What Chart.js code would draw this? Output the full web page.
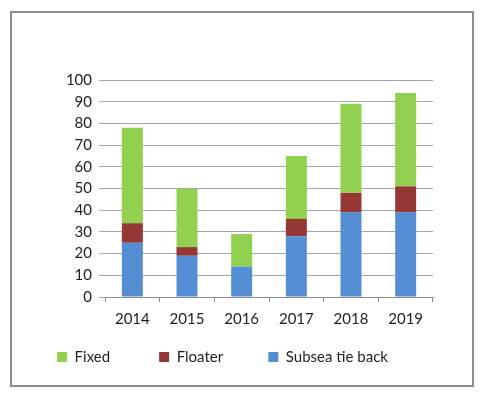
<!DOCTYPE html>
<html>
<head>
<meta charset="utf-8">
<script src="https://cdn.jsdelivr.net/npm/chart.js@4"></script>
<style>
  body { margin: 0; background: #fff; }
  #wrap { position: relative; width: 484px; height: 398px; }
  #frame { position: absolute; left: 10px; top: 11px; width: 460px; height: 372px; border: 2px solid #8c8c8c; }
  #c { position: absolute; left: 0; top: 0; }
</style>
</head>
<body>
<div id="wrap">
  <div id="frame"></div>
  <canvas id="c" width="484" height="398"></canvas>
</div>
<script>
// Years along the x axis
const years = ['2014', '2015', '2016', '2017', '2018', '2019'];

// Stacked series, bottom to top
const subseaTieBack = [25, 19, 14, 28, 39, 39];
const floater = [9, 4, 0, 8, 9, 12];
const fixed = [44, 27, 15, 29, 41, 43];

const font = { family: 'Lato, "Liberation Sans", sans-serif', size: 15 };

// widen legend entries with trailing spaces so items sit apart like the original
const legendSlot = { 'Fixed': 68, 'Floater': 76 };
function padText(text, width) {
    const ctx = document.createElement('canvas').getContext('2d');
    ctx.font = '15px ' + font.family;
    let s = text;
    while (ctx.measureText(s).width < width) s += ' ';
    return s;
}

new Chart(document.getElementById('c').getContext('2d'), {
    type: 'bar',
    data: {
        labels: years,
        datasets: [
            { label: 'Subsea tie back', data: subseaTieBack, backgroundColor: '#558ED5' },
            { label: 'Floater', data: floater, backgroundColor: '#953735' },
            { label: 'Fixed', data: fixed, backgroundColor: '#92D050' }
        ]
    },
    options: {
        responsive: false,
        animation: false,
        layout: { padding: { left: 12, right: 51, top: 80, bottom: 23.5 } },
        datasets: { bar: { categoryPercentage: 1, barPercentage: 0.384 } },
        plugins: {
            tooltip: { enabled: false },
            legend: {
                position: 'bottom',
                reverse: true,
                labels: {
                    boxWidth: 10,
                    boxHeight: 10,
                    padding: 14.5,
                    color: '#1e1e1e',
                    font: font,
                    generateLabels: chart => {
                        const items = Chart.defaults.plugins.legend.labels.generateLabels(chart);
                        items.forEach(item => {
                            if (legendSlot[item.text]) item.text = padText(item.text, legendSlot[item.text]);
                        });
                        return items;
                    }
                }
            }
        },
        scales: {
            x: {
                stacked: true,
                afterFit: scale => { scale.height = 38; },
                grid: { offset: true, drawOnChartArea: false, drawTicks: true, tickLength: 5, color: '#8c8c8c' },
                border: { display: true, color: '#8c8c8c' },
                ticks: { color: '#1e1e1e', font: font, padding: 8 }
            },
            y: {
                stacked: true,
                min: 0,
                max: 100,
                afterFit: scale => { scale.width = 93; },
                grid: { color: '#a6a6a6', drawTicks: true, tickLength: 6 },
                border: { display: false },
                ticks: { stepSize: 10, color: '#1e1e1e', font: font, padding: 7 }
            }
        }
    }
});
</script>
</body>
</html>
